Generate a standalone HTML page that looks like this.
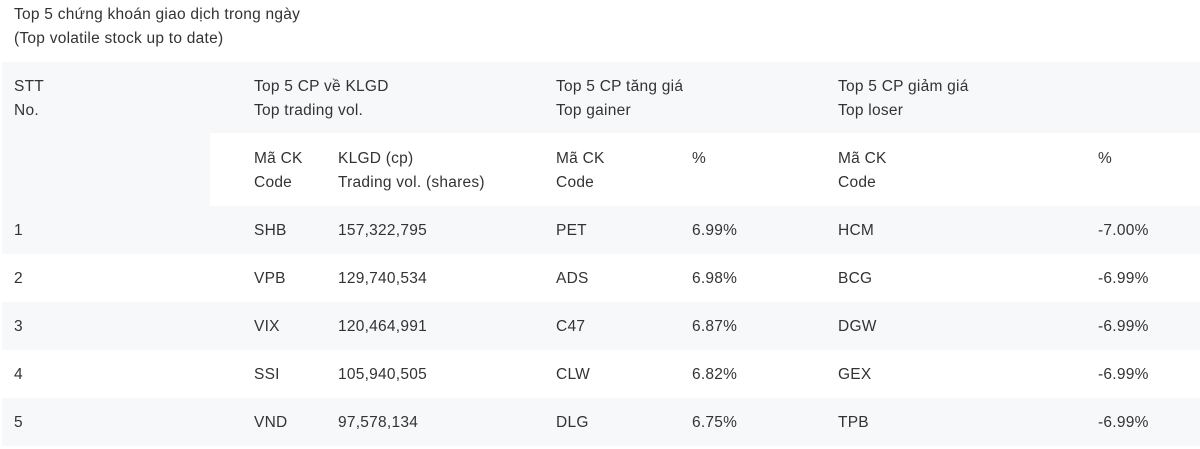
<!DOCTYPE html>
<html><head><meta charset="utf-8"><style>
body{margin:0;width:1200px;height:449px;background:#fff;position:relative;overflow:hidden;font-family:"Liberation Sans",sans-serif;font-size:15.5px;letter-spacing:0.25px;color:#333;}
.b{position:absolute;left:2px;right:0;background:#f7f8fa;}
.t{position:absolute;line-height:24px;white-space:nowrap;}
</style></head><body>
<div class="t" style="left:14px;top:3px">Top 5 chứng khoán giao dịch trong ngày<br>(Top volatile stock up to date)</div>
<div class="b" style="top:62px;height:71px"></div>
<div class="b" style="top:133px;height:73px;right:auto;width:208px"></div>
<div class="b" style="top:206px;height:48px"></div>
<div class="b" style="top:302px;height:48px"></div>
<div class="b" style="top:398px;height:48px"></div>
<div class="t" style="left:14px;top:75px">STT<br>No.</div>
<div class="t" style="left:254px;top:75px">Top 5 CP về KLGD<br>Top trading vol.</div>
<div class="t" style="left:556px;top:75px">Top 5 CP tăng giá<br>Top gainer</div>
<div class="t" style="left:838px;top:75px">Top 5 CP giảm giá<br>Top loser</div>
<div class="t" style="left:254px;top:147px">Mã CK<br>Code</div>
<div class="t" style="left:338px;top:147px">KLGD (cp)<br>Trading vol. (shares)</div>
<div class="t" style="left:556px;top:147px">Mã CK<br>Code</div>
<div class="t" style="left:692px;top:147px">%</div>
<div class="t" style="left:838px;top:147px">Mã CK<br>Code</div>
<div class="t" style="left:1098px;top:147px">%</div>

<div class="t" style="left:14px;top:219px">1</div><div class="t" style="left:254px;top:219px">SHB</div><div class="t" style="left:338px;top:219px">157,322,795</div><div class="t" style="left:556px;top:219px">PET</div><div class="t" style="left:692px;top:219px">6.99%</div><div class="t" style="left:838px;top:219px">HCM</div><div class="t" style="left:1098px;top:219px">-7.00%</div>
<div class="t" style="left:14px;top:267px">2</div><div class="t" style="left:254px;top:267px">VPB</div><div class="t" style="left:338px;top:267px">129,740,534</div><div class="t" style="left:556px;top:267px">ADS</div><div class="t" style="left:692px;top:267px">6.98%</div><div class="t" style="left:838px;top:267px">BCG</div><div class="t" style="left:1098px;top:267px">-6.99%</div>
<div class="t" style="left:14px;top:315px">3</div><div class="t" style="left:254px;top:315px">VIX</div><div class="t" style="left:338px;top:315px">120,464,991</div><div class="t" style="left:556px;top:315px">C47</div><div class="t" style="left:692px;top:315px">6.87%</div><div class="t" style="left:838px;top:315px">DGW</div><div class="t" style="left:1098px;top:315px">-6.99%</div>
<div class="t" style="left:14px;top:363px">4</div><div class="t" style="left:254px;top:363px">SSI</div><div class="t" style="left:338px;top:363px">105,940,505</div><div class="t" style="left:556px;top:363px">CLW</div><div class="t" style="left:692px;top:363px">6.82%</div><div class="t" style="left:838px;top:363px">GEX</div><div class="t" style="left:1098px;top:363px">-6.99%</div>
<div class="t" style="left:14px;top:411px">5</div><div class="t" style="left:254px;top:411px">VND</div><div class="t" style="left:338px;top:411px">97,578,134</div><div class="t" style="left:556px;top:411px">DLG</div><div class="t" style="left:692px;top:411px">6.75%</div><div class="t" style="left:838px;top:411px">TPB</div><div class="t" style="left:1098px;top:411px">-6.99%</div>
</body></html>
